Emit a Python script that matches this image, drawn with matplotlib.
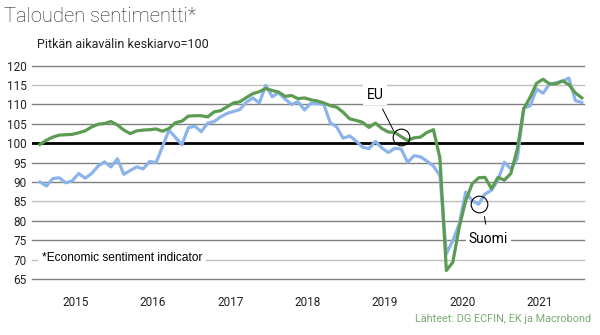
import matplotlib
matplotlib.use("Agg")
import matplotlib.pyplot as plt
import numpy as np

# Monthly data, Jan 2015 .. Jan 2022
suomi = [90, 89, 90.9, 91.1, 89.8, 90.3, 92.2, 91, 92.2, 94.1, 95.2, 93.9,
         96, 92, 93, 93.9, 93.4, 95.3, 95, 99.2, 103.4, 101.5, 99.6, 104,
         104.4, 103, 105.2, 105.6, 106.8, 107.7, 108.2, 108.7, 110.6, 111.7, 110.4, 114.9,
         112, 113, 111.4, 110, 110.7, 108.6, 110.3, 110.2, 110, 105.3, 104.2, 101.3,
         101.9, 100.6, 99, 98.6, 100.5, 98.8, 97.6, 98.7, 98.5, 95.1, 96.8, 96.5,
         95.4, 94.1, 91.7, 71.5, 74.9, 79.2, 87.4, 85.2, 84.3, 86.9, 87.9, 90.5,
         95.1, 93.4, 96, 109, 109.7, 114, 112.9, 115.3, 115.6, 116, 116.8, 111,
         110.5]
eu = [99.7, 100.8, 101.6, 102.1, 102.2, 102.3, 102.7, 103.2, 104.2, 104.9, 105.1, 105.6,
      104.7, 103.4, 102.5, 103.2, 103.4, 103.5, 103.7, 103.1, 103.8, 105.3, 105.7, 107,
      107.1, 107.1, 106.8, 108.1, 108.4, 109.4, 110.4, 110.7, 111.8, 112.8, 113.3, 114.1,
      113.6, 113.2, 112.1, 112.3, 111.5, 111.7, 111.2, 110.9, 110.4, 109.7, 109.3, 108,
      106.3, 105.9, 105.4, 104.1, 105.2, 103.8, 102.9, 102.8, 101.7, 100.7, 101.4, 101.6,
      102.8, 103.5, 96.2, 67.2, 69.3, 78.4, 85.2, 89.5, 91.1, 91.2, 88.3, 91.2,
      90.5, 92.2, 98.5, 108.9, 111.9, 115.5, 116.5, 115.3, 115.3, 116.1, 115.1, 113,
      111.7]
years = ["2015", "2016", "2017", "2018", "2019", "2020", "2021"]
yticks = [65, 70, 75, 80, 85, 90, 95, 100, 105, 110, 115, 120]
light_grid = [70, 85, 115]

BLUE = "#8db4ea"
GREEN = "#5b9b52"

fig = plt.figure(figsize=(6.0, 3.35), dpi=100)
W, H = 600, 335
ax = fig.add_axes([32 / W, (H - 279) / H, 552 / W, (279 - 65.7) / H])

x = np.arange(len(suomi))
ax.set_xlim(-1.24, 84.34)
ax.set_ylim(65, 120)

for v in yticks:
    if v == 100:
        continue
    col = "#c0c0c0" if v in light_grid else "#808080"
    ax.axhline(v, color=col, lw=1.0, zorder=1, clip_on=False)
ax.axhline(100, color="black", lw=2.0, zorder=2)

ax.plot(x, suomi, color=BLUE, lw=2.3, zorder=3, solid_joinstyle="round")
ax.plot(x, eu, color=GREEN, lw=2.3, zorder=4, solid_joinstyle="round")

for s in ax.spines.values():
    s.set_visible(False)
ax.set_yticks(yticks)
ax.set_yticklabels([str(v) for v in yticks], fontsize=8.5, family="Roboto", color="#222222")
ax.set_xticks([5.5 + 12 * k for k in range(len(years))])
ax.set_xticklabels(years, fontsize=8.5, family="Roboto", color="#222222")
ax.tick_params(axis="y", length=0, pad=4)
ax.tick_params(axis="x", length=0, pad=12)

# annotations
eu_i = 56
ax.plot([eu_i], [eu[eu_i]], marker="o", ms=12, mfc="none", mec="black", mew=0.8, zorder=6)
ax.annotate("EU", xy=(eu_i - 1.2, eu[eu_i] + 1.6), xytext=(52.0, 112.5),
            fontsize=10, family="Roboto", ha="center", va="center", zorder=7,
            bbox=dict(boxstyle="square,pad=0.25", fc="white", ec="none"),
            arrowprops=dict(arrowstyle="-", color="black", lw=0.7, shrinkA=3, shrinkB=0))
fi_i = 68
ax.plot([fi_i], [suomi[fi_i]], marker="o", ms=12, mfc="none", mec="black", mew=0.8, zorder=6)
ax.annotate("Suomi", xy=(fi_i + 0.9, suomi[fi_i] - 3.2), xytext=(69.5, 75.2),
            fontsize=10, family="Roboto", ha="center", va="center", zorder=7,
            bbox=dict(boxstyle="square,pad=0.2", fc="white", ec="none"),
            arrowprops=dict(arrowstyle="-", color="black", lw=0.7, shrinkA=4, shrinkB=0))

ax.text(0.3, 70.3, "*Economic sentiment indicator", fontsize=8.6, family="Liberation Sans",
        ha="left", va="center", zorder=7,
        bbox=dict(boxstyle="square,pad=0.3", fc="white", ec="none"))

fig.text(4 / W, 1 - 17 / H, "Talouden sentimentti*", fontsize=14.5, family="Roboto",
         fontweight="light", ha="left", va="center", color="#222222")
fig.text(37 / W, 1 - 45 / H, "Pitkän aikavälin keskiarvo=100", fontsize=9, family="Roboto",
         ha="left", va="center", color="#222222")
fig.text(591 / W, 1 - 319 / H, "Lähteet: DG ECFIN, EK ja Macrobond", fontsize=7.8,
         family="Roboto", ha="right", va="center", color="#7aad72")

fig.savefig("out.png", dpi=100)
